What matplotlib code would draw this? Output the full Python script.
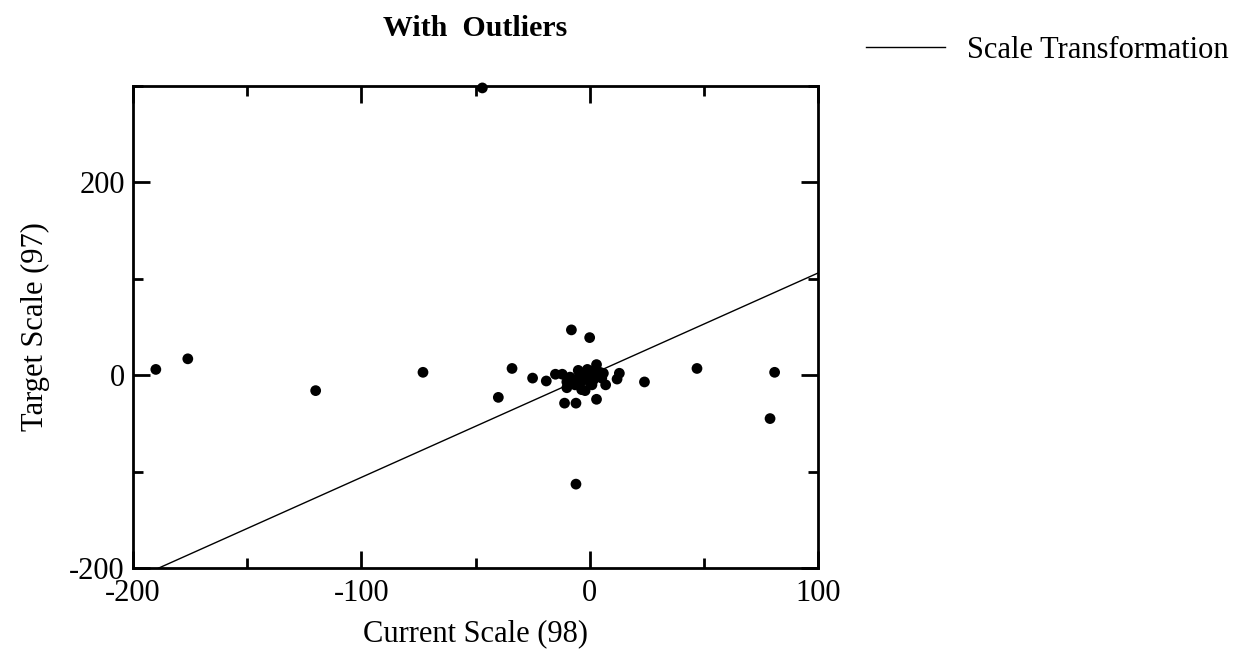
import matplotlib
matplotlib.use("Agg")
import matplotlib.pyplot as plt
from matplotlib.ticker import MultipleLocator

plt.rcParams['font.family'] = ['Liberation Serif', 'DejaVu Serif']
plt.rcParams['axes.unicode_minus'] = False

# Data
current_scale = [-47, -190, -176, -120, -73, -34, -40, -25, -19, -15, -11, -6, 3,
                 -8, 0, 7, 13, 12, 24, 3, 47, 81, 79, -6,
                 -12, -10, -10, -5, -3.5, -2, 0, 1.6, 4.5, 5.3, -7, -6.4, -1.3,
                 3, -8.6, -4, 1, -3, 2, 6, -5, -1, 0]
target_scale = [298, 6, 17, -16, 3, 7, -23, -3, -6, 1, -29, -29, -25,
                47, 39, -10, 2, -4, -7, 11, 7, 3, -45, -113,
                1, -7, -13, 5, -15, -16, 2, -5, 3, -3, -5, -10, -3,
                0, -2, -7, -10, 2, 5, 2, -3, 6, -7]
line_x = [-200, 100]
line_y = [-212, 106]

fig = plt.figure(figsize=(12.48, 6.66), dpi=100)
ax = fig.add_axes([133/1248, 1-568/666, (818-133)/1248, (568-86)/666])

ax.plot(line_x, line_y, color='black', lw=1.0, label='Scale Transformation', zorder=2)
ax.scatter(current_scale, target_scale, s=60, color='black', edgecolors='none',
           zorder=3, clip_on=False)

ax.set_xlim(-200, 100)
ax.set_ylim(-200, 300)
ax.xaxis.set_major_locator(MultipleLocator(100))
ax.xaxis.set_minor_locator(MultipleLocator(50))
ax.yaxis.set_minor_locator(MultipleLocator(100))
ax.set_yticks([-200, 0, 200])

for s in ax.spines.values():
    s.set_linewidth(2.0)
ax.tick_params(which='both', direction='in', top=True, right=True, width=2.0,
               labelsize=22, pad=6)
ax.tick_params(axis='x', which='major', pad=8)
ax.tick_params(which='major', length=12)
ax.tick_params(which='minor', length=7)

ax.set_xlabel('Current Scale (98)', fontsize=22, labelpad=8)
ax.set_ylabel('Target Scale (97)', fontsize=22, labelpad=14)
ax.set_title('With  Outliers', fontsize=21.5, fontweight='bold', pad=36)

fig.legend(loc='center left', bbox_to_anchor=(866/1248, 1-50/666), frameon=False,
           fontsize=22, handlelength=2.6, handletextpad=0.7, borderpad=0,
           borderaxespad=0)

fig.savefig('out.png', dpi=100)
